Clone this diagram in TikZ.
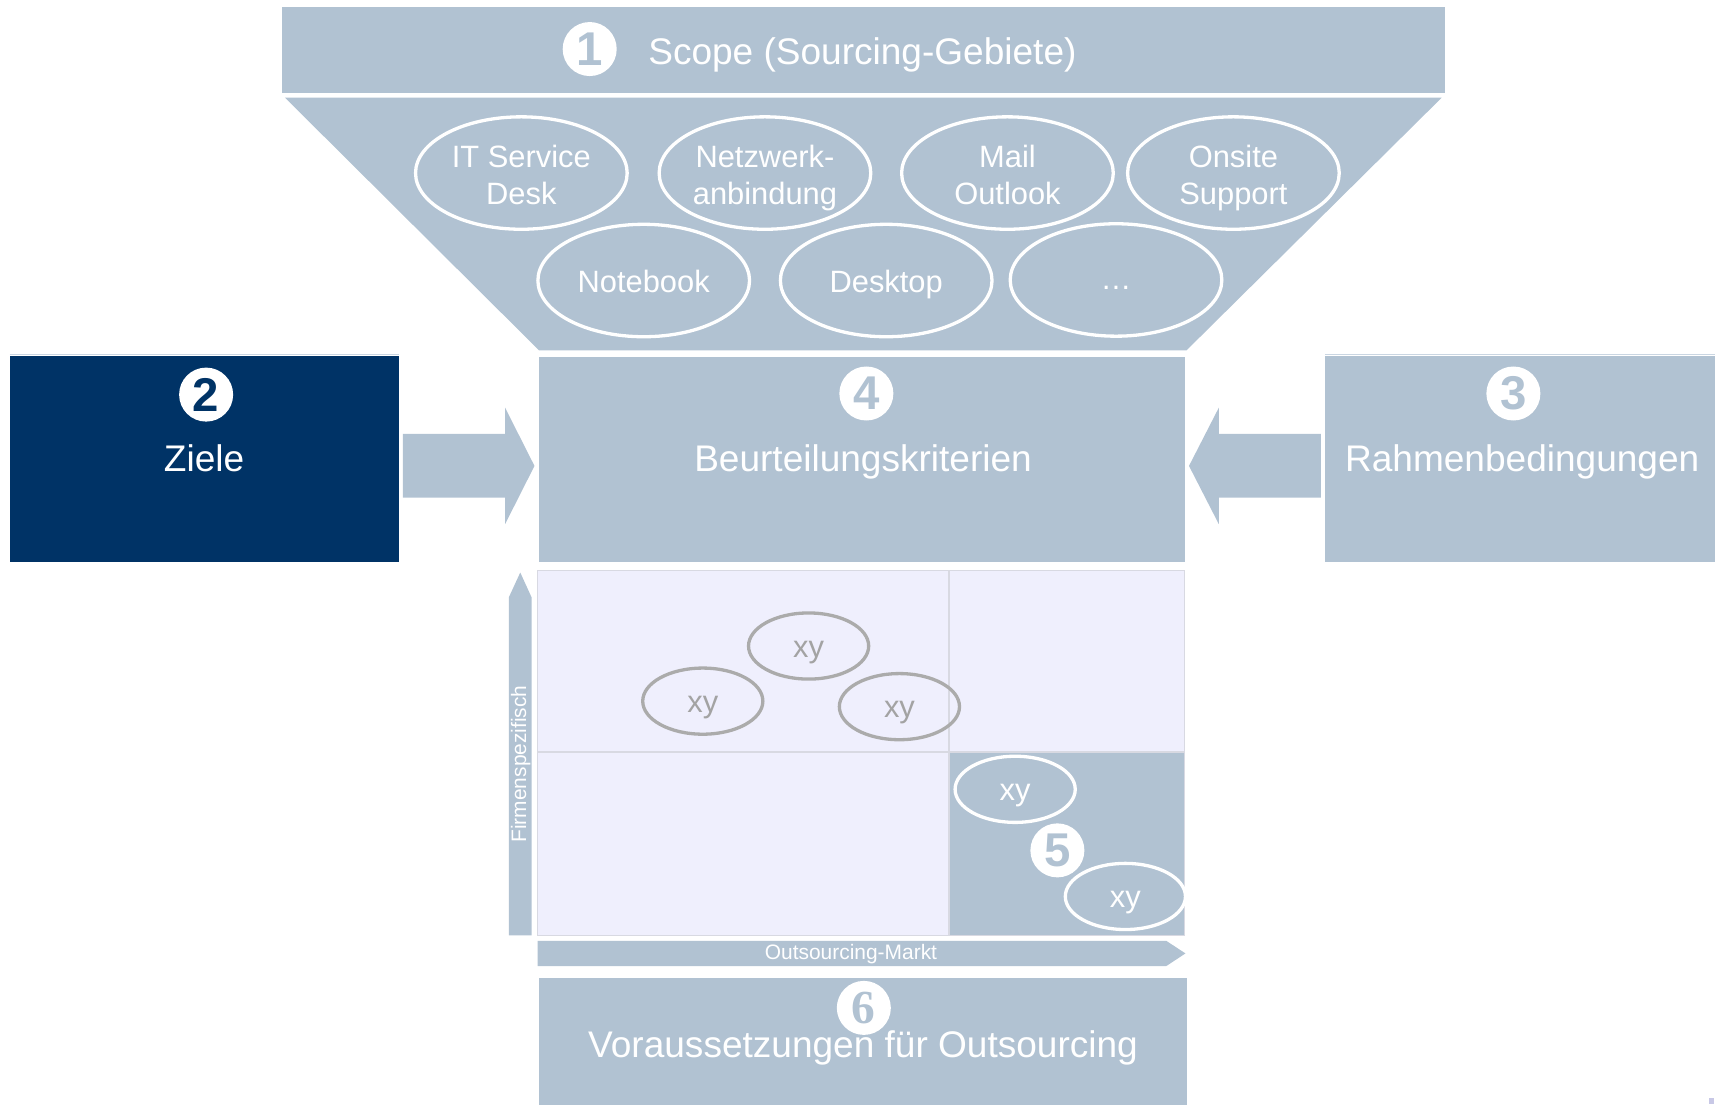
\documentclass[tikz,border=0pt]{standalone}
\usepackage{fontspec}
\setmainfont{Liberation Sans}
\newfontfamily\numserif{Liberation Serif}
\usetikzlibrary{shapes.geometric,calc}
\definecolor{bg}{HTML}{B1C2D2}
\definecolor{bgl}{HTML}{CAD6E2}
\definecolor{navy}{HTML}{003366}
\definecolor{lav}{HTML}{EFEFFD}
\definecolor{gridc}{HTML}{D8D9E2}
\definecolor{ellg}{HTML}{ABABAB}
\definecolor{txtg}{HTML}{A3A3A3}
\definecolor{dotc}{HTML}{C8C8E6}
\begin{document}
\begin{tikzpicture}[x=1pt,y=-1pt,
  box/.style={inner sep=0,outer sep=0,anchor=north west},
  bigtxt/.style={text=white,font=\fontsize{33.6}{40}\selectfont,inner sep=0},
  sell/.style={ellipse,draw=white,line width=3,minimum width=192,minimum height=102,inner sep=0},
  etxt/.style={text=white,align=center,inner sep=0,font=\fontsize{28}{33.8}\selectfont},
  numc/.style={circle,fill=white,minimum size=49,inner sep=0,font=\fontsize{43}{43}\selectfont\bfseries},
  gell/.style={ellipse,draw=ellg,line width=3,minimum width=109,minimum height=60,inner sep=0,text=txtg,font=\fontsize{28}{28}\selectfont,text height=20.5pt,text depth=0pt},
  well/.style={ellipse,draw=white,line width=3,minimum width=109,minimum height=60,inner sep=0,text=white,font=\fontsize{28}{28}\selectfont,text height=20.5pt,text depth=0pt},
  smalltxt/.style={text=white,font=\fontsize{19}{19}\selectfont,inner sep=0},
]
\useasboundingbox (0,0) rectangle (1565,1002.5);

% --- 1 Scope bar
\node[box,fill=bg,minimum width=1055.5,minimum height=78] (scope) at (255.5,6.7) {};
\node[numc,text=bg] (n1) at (535,44.5) {1};
\node[bigtxt,anchor=base west] (scopetxt) at (588,58.3) {Scope (Sourcing-Gebiete)};

% --- funnel
\fill[bg] (258.5,88.6) -- (1308,88.6) -- (1076.5,317.8) -- (489,317.8) -- cycle;

% --- scope ellipses
\node[sell] (e1) at (473,157) {};
\node[etxt] (t1) at ($(e1)+(0,11.5)$) {\smash{IT Service}\\\smash{Desk}};
\node[sell] (e2) at (694,157) {};
\node[etxt] (t2) at ($(e2)+(0,11.5)$) {\smash{Netzwerk-}\\\smash{anbindung}};
\node[sell] (e3) at (914,157) {};
\node[etxt] (t3) at ($(e3)+(0,11.5)$) {\smash{Mail}\\\smash{Outlook}};
\node[sell] (e4) at (1119,157) {};
\node[etxt] (t4) at ($(e4)+(0,11.5)$) {\smash{Onsite}\\\smash{Support}};
\node[sell] (e5) at (584,254.5) {};
\node[etxt] (t5) at ($(e5)+(0,11)$) {\smash{Notebook}};
\node[sell] (e6) at (804,254.5) {};
\node[etxt] (t6) at ($(e6)+(0,11)$) {\smash{Desktop}};
\node[sell] (e7) at (1012.5,254) {};
\node[etxt] (t7) at ($(e7)+(0,9)$) {\smash{…}};

% --- 2 Ziele
\draw[bgl,line width=1.2] (8.7,321.8) -- (361.7,321.8);
\node[box,fill=navy,minimum width=353,minimum height=187.4] (ziele) at (8.7,322.6) {};
\node[numc,text=navy] (n2) at (187,358) {2};
\node[bigtxt,anchor=base] (zieletxt) at (185.2,428) {Ziele};

% --- 4 Beurteilungskriterien
\node[box,fill=bg,minimum width=586.1,minimum height=186.2] (beur) at (488.7,323.5) {};
\node[numc,text=bg] (n4) at (786,357) {4};
\node[bigtxt,anchor=base] (beurtxt) at (783,428) {Beurteilungskriterien};

% --- 3 Rahmenbedingungen
\draw[bgl,line width=1.2] (1202,321.8) -- (1556,321.8);
\node[box,fill=bg,minimum width=354,minimum height=187.4] (rahmen) at (1202,322.6) {};
\node[numc,text=bg] (n3) at (1373,357) {3};
\node[bigtxt,anchor=base] (rahmentxt) at (1381,428) {Rahmenbedingungen};

% --- block arrows
\fill[bg] (365.5,393.6) -- (458.2,393.6) -- (458.2,369.8) -- (484.9,422.7)
  -- (458.2,475.6) -- (458.2,451.4) -- (365.5,451.4) -- cycle;
\fill[bg] (1198.4,393.6) -- (1105.8,393.6) -- (1105.8,369.8) -- (1078.7,422.7)
  -- (1105.8,475.6) -- (1105.8,451.4) -- (1198.4,451.4) -- cycle;

% --- matrix
\fill[lav] (487.7,517.6) rectangle (1074.8,848.7);
\fill[bg] (861,682.3) rectangle (1074.8,848.7);
\draw[gridc,line width=1.2] (487.7,517.6) rectangle (1074.8,848.7);
\draw[gridc,line width=1.2] (861,517.6) -- (861,848.7);
\draw[gridc,line width=1.2] (487.7,682.3) -- (1074.8,682.3);

\node[gell] (g1) at (733.6,586.1) {xy};
\node[gell] (g2) at (637.6,636.1) {xy};
\node[gell] (g3) at (816,641.1) {xy};
\node[well] (w1) at (921,716.1) {xy};
\node[well] (w2) at (1021,813.3) {xy};
\node[numc,text=bg] (n5) at (959.3,771.5) {5};

% --- axes
\fill[bg] (461.7,848.7) -- (461.7,541.8) -- (472,519.4) -- (482.2,541.8) -- (482.2,848.7) -- cycle;
\node[smalltxt,rotate=90] (ylab) at (472.5,693.1) {Firmenspezifisch};
\fill[bg] (487.7,853.5) -- (1058,853.5) -- (1075.5,865) -- (1058,876.5) -- (487.7,876.5) -- cycle;
\node[smalltxt] (xlab) at (772,866) {Outsourcing-Markt};

% --- 6 Voraussetzungen
\node[box,fill=bg,minimum width=587.6,minimum height=116] (vor) at (489,887.4) {};
\node[bigtxt,anchor=base] (vortxt) at (783,959) {Voraussetzungen für Outsourcing};
\node[numc,text=bg,font=\fontsize{43}{43}\selectfont\numserif\bfseries] (n6) at (783.7,914.4) {6};

% tiny mark
\fill[dotc] (1550.5,996.5) rectangle (1555,1001.5);
\end{tikzpicture}
\end{document}
